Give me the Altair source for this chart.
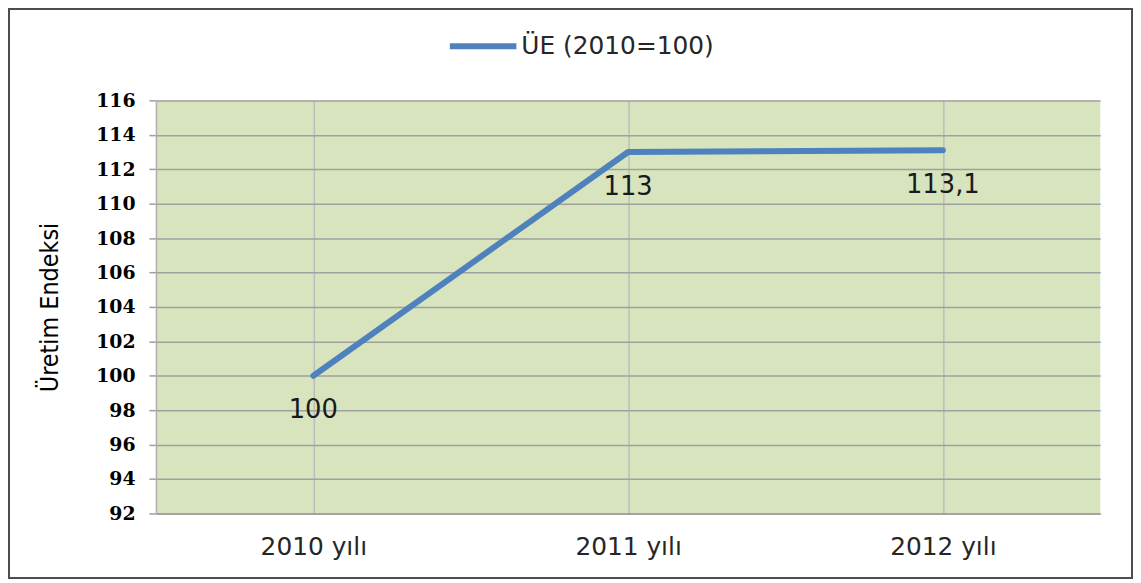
import altair as alt
import pandas as pd

years = ["2010 yılı", "2011 yılı", "2012 yılı"]
values = [100, 113, 113.1]
labels = ["100", "113", "113,1"]
series_name = "ÜE (2010=100)"
y_ticks = [92, 94, 96, 98, 100, 102, 104, 106, 108, 110, 112, 114, 116]

df = pd.DataFrame({"yil": years, "deger": values, "etiket": labels,
                   "seri": [series_name] * len(years)})

W, H = 951, 416

x_enc = alt.X("yil:N", sort=years, title=None,
              scale=alt.Scale(type="point", padding=0.5),
              axis=alt.Axis(labelAngle=0, ticks=False, labelPadding=21,
                            labelFont="DejaVu Sans", labelFontSize=25,
                            labelColor="#262626", grid=True, gridColor="#BDBDBD",
                            gridWidth=1.5, domainColor="#9E9E9E", domainWidth=1.5))
y_enc = alt.Y("deger:Q", title="Üretim Endeksi",
              scale=alt.Scale(domain=[92, 116], nice=False, zero=False),
              axis=alt.Axis(values=y_ticks, tickCount=13, tickSize=7, tickColor="#9E9E9E",
                            tickWidth=1.5, labelPadding=14, labelOverlap=False,
                            labelFont="DejaVu Serif", labelFontWeight="bold",
                            labelFontSize=19, labelColor="#000000",
                            grid=True, gridColor="#A0A0A0", gridWidth=1.5,
                            domainColor="#B0B0B0", domainWidth=1.5,
                            titleFont="DejaVu Sans Condensed", titleFontSize=25,
                            titleFontWeight="normal", titleColor="#000000",
                            titleAngle=-90, titleX=-107, titleY=H / 2,
                            titleAlign="center", titleBaseline="middle"))

frame = alt.Chart(alt.Data(values=[{"a": 1}])).mark_rect(
    fill=None, stroke="#4d4d4d", strokeWidth=2, clip=False
).encode(x=alt.value(-148), x2=alt.value(983), y=alt.value(-92), y2=alt.value(481))

line = alt.Chart(df).mark_line(strokeWidth=6, strokeCap="round", strokeJoin="round").encode(
    x=x_enc, y=y_enc,
    color=alt.Color("seri:N", title=None,
                    scale=alt.Scale(domain=[series_name], range=["#4F81BD"]),
                    legend=alt.Legend(orient="none", legendX=293, legendY=-91,
                                      symbolType="stroke", symbolSize=4489,
                                      symbolStrokeWidth=6, labelOffset=2,
                                      labelFont="DejaVu Sans", labelFontSize=25,
                                      labelColor="#262626", padding=0,
                                      labelLimit=400))
)

text = alt.Chart(df).mark_text(baseline="middle", align="center", dy=35,
                               font="DejaVu Sans", fontSize=26, color="#1a1a1a").encode(
    x=x_enc, y=y_enc, text="etiket:N"
)

chart = alt.layer(line, text, frame).resolve_axis(x="shared", y="shared").properties(
    width=W, height=H,
    background="white",
    autosize=alt.AutoSizeParams(type="none"),
    padding={"left": 149, "top": 91, "right": 33, "bottom": 68},
).configure_view(fill="#D7E4BD", stroke=None)

chart.save("out.html", embed_options={"renderer": "svg", "actions": False})
